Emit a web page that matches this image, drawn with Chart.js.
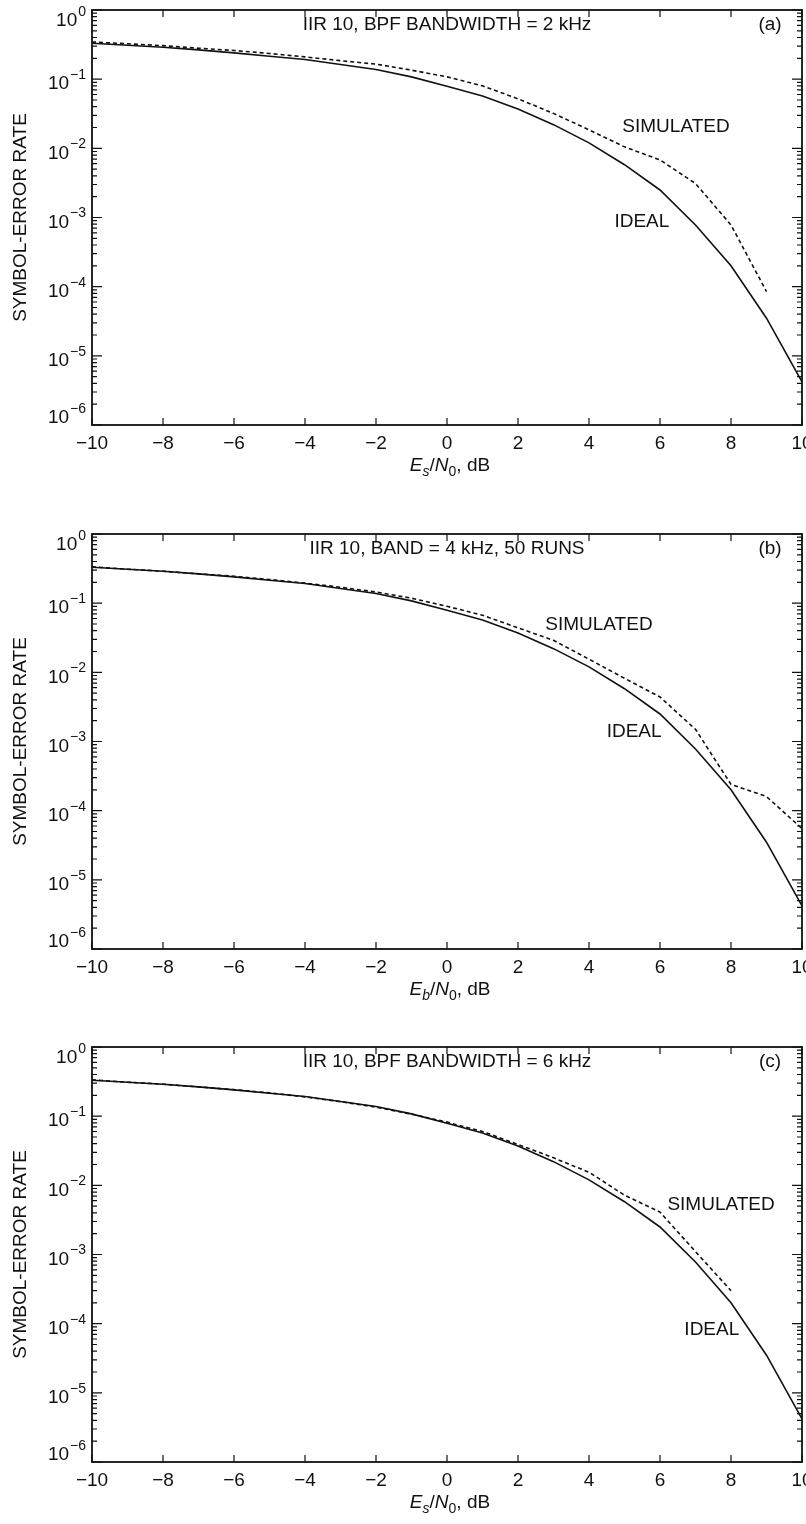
<!DOCTYPE html>
<html>
<head>
<meta charset="utf-8">
<script src="https://cdn.jsdelivr.net/npm/chart.js@4.4.0/dist/chart.umd.min.js"></script>
<style>
    html, body { margin: 0; padding: 0; background: #fff; overflow: hidden; }
    body { width: 806px; height: 1524px; position: relative; }
    canvas { position: absolute; left: 0; }
</style>
</head>
<body>
<canvas id="chartA" width="806" height="500" style="top:0px"></canvas>
<canvas id="chartB" width="806" height="500" style="top:524px"></canvas>
<canvas id="chartC" width="806" height="487" style="top:1037px"></canvas>
<script>
// Es/N0 (or Eb/N0) in dB
const snrDb = [-10, -9, -8, -7, -6, -5, -4, -3, -2, -1, 0, 1, 2, 3, 4, 5, 6, 7, 8, 9, 10];

// ideal symbol-error rate, same curve in all three panels
const ideal = [0.33, 0.31, 0.29, 0.265, 0.24, 0.215, 0.192, 0.163, 0.138, 0.108, 0.079,
    0.057, 0.037, 0.022, 0.012, 0.0058, 0.0025, 0.00078, 0.0002, 0.000035, 0.0000042];

// simulated curves (dashed)
const simulatedA = [0.345, 0.325, 0.305, 0.28, 0.26, 0.235, 0.21, 0.185, 0.165, 0.135, 0.108,
    0.08, 0.052, 0.032, 0.0185, 0.0105, 0.0068, 0.0031, 0.00078, 0.000085];
const simulatedB = [0.335, 0.31, 0.29, 0.265, 0.245, 0.22, 0.195, 0.17, 0.145, 0.118, 0.09,
    0.067, 0.044, 0.029, 0.0155, 0.0082, 0.0044, 0.0015, 0.00024, 0.00016, 0.000055];
const simulatedC = [0.335, 0.31, 0.29, 0.265, 0.242, 0.217, 0.19, 0.162, 0.135, 0.107, 0.082,
    0.06, 0.039, 0.025, 0.0155, 0.0072, 0.0041, 0.0011, 0.0003];

const panelTitles = ['IIR 10, BPF BANDWIDTH = 2 kHz', 'IIR 10, BAND = 4 kHz, 50 RUNS', 'IIR 10, BPF BANDWIDTH = 6 kHz'];
const panelTags = ['(a)', '(b)', '(c)'];
const xSubscripts = ['s', 'b', 's'];
const yDecades = [0, -1, -2, -3, -4, -5, -6];

// where the curve names sit, in data units [dB, rate]
const simLabelAt = [[6.45, 0.0204], [4.28, 0.0483], [7.72, 0.0052]];
const idealLabelAt = [[5.49, 0.00086], [5.27, 0.00137], [7.46, 0.000081]];

const FONT = '"Liberation Sans", Arial, Helvetica, sans-serif';
const INK = '#111';

function pts(ys) {
    return ys.map((y, i) => ({ x: snrDb[i], y: y }));
}

// frame, inward ticks, log labels and text inside the plot
const framePlugin = {
    id: 'frame',
    afterDraw(chart, args, opts) {
        const ctx = chart.ctx;
        const a = chart.chartArea;
        const x = chart.scales.x;
        const y = chart.scales.y;
        ctx.save();

        ctx.strokeStyle = INK;
        ctx.lineWidth = 1.8;
        ctx.strokeRect(a.left, a.top, a.right - a.left, a.bottom - a.top);

        ctx.lineWidth = 1.2;
        ctx.beginPath();
        for (let v = -10; v <= 10; v += 2) {
            const px = x.getPixelForValue(v);
            ctx.moveTo(px, a.bottom); ctx.lineTo(px, a.bottom - 7);
            ctx.moveTo(px, a.top); ctx.lineTo(px, a.top + 7);
        }
        yDecades.forEach(e => {
            for (let m = 1; m <= 9; m++) {
                const v = m * Math.pow(10, e);
                if (v > y.max * 1.0001 || v < y.min * 0.9999) continue;
                const py = y.getPixelForValue(v);
                const len = m === 1 ? 10 : 5;
                ctx.moveTo(a.left, py); ctx.lineTo(a.left + len, py);
                ctx.moveTo(a.right, py); ctx.lineTo(a.right - len, py);
            }
        });
        ctx.stroke();

        // y labels 10^n
        ctx.fillStyle = INK;
        ctx.textBaseline = 'middle';
        ctx.textAlign = 'right';
        yDecades.forEach((e, i) => {
            let py = y.getPixelForValue(Math.pow(10, e));
            if (i === 0) py += 6;
            if (i === yDecades.length - 1) py -= 12;
            const exp = e === 0 ? '0' : '\u2212' + Math.abs(e);
            const right = a.left - 6;
            ctx.font = '14px ' + FONT;
            const ew = ctx.measureText(exp).width;
            ctx.fillText(exp, right, py - 4);
            ctx.font = '19px ' + FONT;
            ctx.fillText('10', right - ew - 1, py + 5);
        });

        // x title with italic and subscripts
        const parts = [
            ['E', 'italic 19px ', 0], [opts.sub, 'italic 14px ', 6], ['/', '19px ', 0],
            ['N', 'italic 19px ', 0], ['0', '14px ', 6], [', dB', '19px ', 0]
        ];
        let total = 0;
        parts.forEach(p => { ctx.font = p[1] + FONT; total += ctx.measureText(p[0]).width; });
        let cx = (a.left + a.right) / 2 + 3 - total / 2;
        const ty = a.bottom + 41;
        ctx.textAlign = 'left';
        parts.forEach(p => {
            ctx.font = p[1] + FONT;
            ctx.fillText(p[0], cx, ty + p[2]);
            cx += ctx.measureText(p[0]).width;
        });

        // texts inside the plot
        ctx.font = '19px ' + FONT;
        ctx.textAlign = 'center';
        ctx.fillText(opts.title, (a.left + a.right) / 2, a.top + 15);
        ctx.fillText(opts.tag, a.right - 32, a.top + 15);
        ctx.fillText('SIMULATED', x.getPixelForValue(opts.simAt[0]), y.getPixelForValue(opts.simAt[1]));
        ctx.fillText('IDEAL', x.getPixelForValue(opts.idealAt[0]), y.getPixelForValue(opts.idealAt[1]));

        ctx.restore();
    }
};

function makePanel(canvasId, i, simulated) {
    const canvas = document.getElementById(canvasId);
    const axisHeight = canvas.height - 10 - 415;
    return new Chart(canvas.getContext('2d'), {
        type: 'line',
        data: {
            datasets: [
                { label: 'IDEAL', data: pts(ideal), borderColor: INK, borderWidth: 1.6, pointRadius: 0, tension: 0, fill: false },
                { label: 'SIMULATED', data: pts(simulated), borderColor: INK, borderWidth: 1.6, borderDash: [4, 3], pointRadius: 0, tension: 0, fill: false }
            ]
        },
        options: {
            responsive: false,
            animation: false,
            events: [],
            layout: { padding: { left: 0, right: 4, top: 10, bottom: 0 } },
            plugins: {
                legend: { display: false },
                tooltip: { enabled: false },
                frame: {
                    title: panelTitles[i],
                    tag: panelTags[i],
                    sub: xSubscripts[i],
                    simAt: simLabelAt[i],
                    idealAt: idealLabelAt[i]
                }
            },
            scales: {
                x: {
                    type: 'linear',
                    min: -10,
                    max: 10,
                    grid: { display: false, drawTicks: false },
                    border: { display: false },
                    ticks: {
                        stepSize: 2,
                        padding: 7,
                        color: INK,
                        font: { family: FONT, size: 19 },
                        maxRotation: 0,
                        callback: v => v < 0 ? '\u2212' + (-v) : String(v)
                    },
                    afterFit: s => { s.height = axisHeight; s.paddingLeft = 0; s.paddingRight = 0; }
                },
                y: {
                    type: 'logarithmic',
                    min: 1e-6,
                    max: 1,
                    grid: { display: false, drawTicks: false },
                    border: { display: false },
                    ticks: { display: false },
                    title: {
                        display: true,
                        text: 'SYMBOL-ERROR RATE',
                        color: INK,
                        font: { family: FONT, size: 19 },
                        padding: { top: 9, bottom: 0 }
                    },
                    afterFit: s => { s.width = 92; s.paddingTop = 0; s.paddingBottom = 0; }
                }
            }
        },
        plugins: [framePlugin]
    });
}

makePanel('chartA', 0, simulatedA);
makePanel('chartB', 1, simulatedB);
makePanel('chartC', 2, simulatedC);
</script>
</body>
</html>
